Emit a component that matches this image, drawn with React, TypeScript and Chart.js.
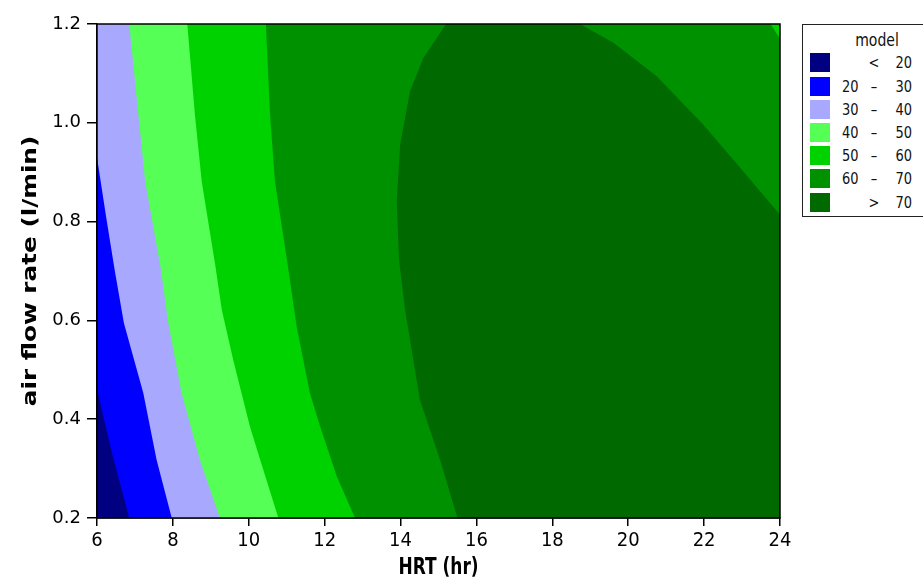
import React, { useEffect, useRef } from "react";
import { Chart, registerables } from "chart.js";

Chart.register(...registerables);

// Axis ranges
const X_MIN = 6;
const X_MAX = 24;
const Y_MIN = 0.2;
const Y_MAX = 1.2;
const X_STEP = 2;
const Y_STEP = 0.2;

const X_TITLE = "HRT (hr)";
const Y_TITLE = "air flow rate (l/min)";

// Contour lines (HRT, air flow rate)
const hrt20 = [6.85, 6.4, 6.0];
const air20 = [0.2, 0.33, 0.46];

const hrt30 = [7.97, 7.57, 7.22, 6.71, 6.47, 6.24, 6.0];
const air30 = [0.2, 0.318, 0.453, 0.594, 0.7, 0.81, 0.93];

const hrt40 = [9.24, 8.71, 8.23, 7.88, 7.67, 7.27, 7.09, 6.85];
const air40 = [0.2, 0.318, 0.453, 0.594, 0.71, 0.881, 1.017, 1.2];

const hrt50 = [10.78, 10.3, 10.03, 9.59, 9.29, 9.12, 8.76, 8.58, 8.38];
const air50 = [0.2, 0.318, 0.385, 0.52, 0.621, 0.71, 0.881, 1.017, 1.2];

const hrt60 = [12.8, 12.32, 11.88, 11.61, 11.26, 11.05, 10.69, 10.56, 10.45];
const air60 = [0.2, 0.284, 0.385, 0.453, 0.588, 0.7, 0.881, 1.017, 1.2];

// small 50-60 corner at the top right
const hrt60corner = [23.75, 24, 24];
const air60corner = [1.2, 1.2, 1.17];

// closed >70 region
const hrt70 = [15.5, 15.04, 14.51, 14.12, 13.96, 13.9, 13.99, 14.25, 14.6, 15.2, 18.73, 19.61, 20.75, 21.98, 22.95, 24, 24];
const air70 = [0.2, 0.318, 0.439, 0.621, 0.723, 0.841, 0.956, 1.064, 1.131, 1.2, 1.2, 1.162, 1.094, 0.996, 0.909, 0.814, 0.2];

// Legend
const legendTitle = "model";
const legendLow = ["", "20", "30", "40", "50", "60", ""];
const legendSym = ["<", "\u2013", "\u2013", "\u2013", "\u2013", "\u2013", ">"];
const legendHigh = ["20", "30", "40", "50", "60", "70", "70"];
const legendColors = ["#000080", "#0000ff", "#a8a8ff", "#55ff55", "#00d200", "#009100", "#006900"];

const FONT = "'DejaVu Sans', Verdana, sans-serif";
const FONT_COND = "'DejaVu Sans Condensed', 'DejaVu Sans', sans-serif";

function pts(xs: number[], ys: number[]) {
  return xs.map((x, i) => ({ x, y: ys[i] }));
}

function leftRegion(xs: number[], ys: number[]) {
  const p = pts(xs, ys);
  const last = p[p.length - 1];
  if (last.y >= Y_MAX) p.push({ x: X_MIN, y: Y_MAX });
  p.push({ x: X_MIN, y: Y_MIN });
  return p;
}

const framePlugin = {
  id: "frame",
  afterDatasetsDraw(chart: any) {
    const { ctx, chartArea } = chart;
    const { left, top, right, bottom } = chartArea;
    ctx.save();
    ctx.strokeStyle = "#000";
    ctx.lineWidth = 1.5;
    ctx.strokeRect(left, top, right - left, bottom - top);
    ctx.restore();
  },
};

// axis titles, drawn slightly stretched along their length like the reference
const titlePlugin = {
  id: "axisTitles",
  afterDraw(chart: any) {
    const { ctx, chartArea } = chart;
    const { left, top, right, bottom } = chartArea;
    ctx.save();
    ctx.fillStyle = "#000";
    ctx.textAlign = "center";
    ctx.textBaseline = "middle";
    ctx.font = `bold 19px ${FONT}`;
    ctx.translate(31, (top + bottom) / 2);
    ctx.rotate(-Math.PI / 2);
    ctx.scale(1.3, 1);
    ctx.fillText(Y_TITLE, 0, 0);
    ctx.restore();

    ctx.save();
    ctx.fillStyle = "#000";
    ctx.textAlign = "center";
    ctx.textBaseline = "middle";
    ctx.font = `bold 17px ${FONT}`;
    ctx.translate((left + right) / 2, 568);
    ctx.scale(1, 1.3);
    ctx.fillText(X_TITLE, 0, 0);
    ctx.restore();
  },
};

function region(data: { x: number; y: number }[], color: string, order: number) {
  return {
    data,
    backgroundColor: color,
    borderColor: "transparent",
    borderWidth: 0,
    pointRadius: 0,
    pointHoverRadius: 0,
    tension: 0,
    fill: "shape",
    order,
  };
}

export default function App() {
  const ref = useRef<HTMLCanvasElement>(null);

  useEffect(() => {
    const rect = [
      { x: X_MIN, y: Y_MIN },
      { x: X_MAX, y: Y_MIN },
      { x: X_MAX, y: Y_MAX },
      { x: X_MIN, y: Y_MAX },
    ];
    const datasets: any[] = [
      region(rect, legendColors[5], 100),
      region(pts(hrt60corner, air60corner), legendColors[4], 90),
      region(pts(hrt70, air70), legendColors[6], 80),
      region(leftRegion(hrt60, air60), legendColors[4], 70),
      region(leftRegion(hrt50, air50), legendColors[3], 60),
      region(leftRegion(hrt40, air40), legendColors[2], 50),
      region(leftRegion(hrt30, air30), legendColors[1], 40),
      region(leftRegion(hrt20, air20), legendColors[0], 30),
    ];

    const chart = new Chart(ref.current as HTMLCanvasElement, {
      type: "line",
      data: { datasets },
      options: {
        animation: false,
        responsive: false,
        devicePixelRatio: 1,
        events: [],
        layout: { padding: { left: 0, top: 24, right: 143, bottom: 0 } },
        plugins: { legend: { display: false }, tooltip: { enabled: false } },
        scales: {
          x: {
            type: "linear",
            min: X_MIN,
            max: X_MAX,
            afterFit: (s: any) => {
              s.height = 65;
            },
            ticks: {
              stepSize: X_STEP,
              color: "#000",
              font: { family: FONT_COND, size: 20 },
              padding: 3,
              maxRotation: 0,
            },
            grid: {
              display: true,
              drawOnChartArea: false,
              drawTicks: true,
              tickLength: 8,
              color: "#000",
              lineWidth: 1.5,
            },
            border: { display: true, color: "#000", width: 1.5 },
            title: { display: false },
          },
          y: {
            type: "linear",
            min: Y_MIN,
            max: Y_MAX,
            afterFit: (s: any) => {
              s.width = 97;
            },
            ticks: {
              stepSize: Y_STEP,
              color: "#000",
              font: { family: FONT, size: 18 },
              padding: 6,
              callback: (v: any) => Number(v).toFixed(1),
            },
            grid: {
              display: true,
              drawOnChartArea: false,
              drawTicks: true,
              tickLength: 10,
              color: "#000",
              lineWidth: 1.5,
            },
            border: { display: true, color: "#000", width: 1.5 },
            title: { display: false },
          },
        },
      } as any,
      plugins: [framePlugin, titlePlugin],
    });
    return () => chart.destroy();
  }, []);

  const txt = (extra: any) => ({
    position: "absolute" as const,
    lineHeight: "19px",
    transform: "scaleY(1.28)",
    ...extra,
  });

  return (
    <div style={{ position: "absolute", left: 0, top: 0, width: 923, height: 583, background: "#fff", overflow: "hidden" }}>
      <canvas ref={ref} width={923} height={583} style={{ display: "block", width: 923, height: 583 }} />
      <div
        style={{
          position: "absolute",
          left: 802,
          top: 24,
          width: 140,
          height: 193,
          border: "1.5px solid #222",
          background: "#fff",
          boxSizing: "border-box",
          fontFamily: FONT,
          fontSize: 13,
          color: "#111",
        }}
      >
        <span style={txt({ left: 44, top: 6, width: 60, textAlign: "center", fontSize: 14 })}>{legendTitle}</span>
        {legendColors.map((c, i) => (
          <div key={i} style={{ position: "absolute", left: 0, top: 28.3 + i * 23.2, width: 140, height: 19 }}>
            <div style={{ position: "absolute", left: 6.5, top: 0, width: 20, height: 19, background: c }} />
            <span style={txt({ left: 20, top: 0, width: 35.5, textAlign: "right" })}>{legendLow[i]}</span>
            <span style={txt({ left: 63, top: 0, width: 16, textAlign: "center" })}>{legendSym[i]}</span>
            <span style={txt({ left: 80, top: 0, width: 29, textAlign: "right" })}>{legendHigh[i]}</span>
          </div>
        ))}
      </div>
    </div>
  );
}
